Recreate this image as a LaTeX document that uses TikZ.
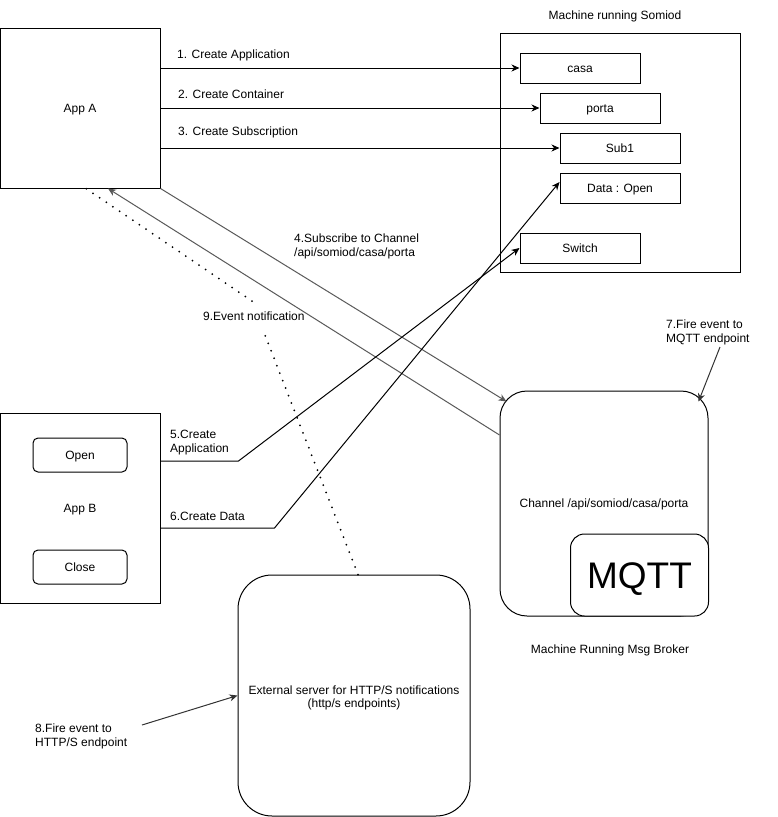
\documentclass[tikz,border=0pt]{standalone}
\usepackage{fontspec}
\setmainfont{Liberation Sans}
\usetikzlibrary{arrows.meta}
\begin{document}
\begin{tikzpicture}[x=1pt,y=-1pt,
  every node/.style={font=\fontsize{12}{13.5}\selectfont},
  box/.style={draw, line width=1pt, inner sep=0pt},
  onebox/.style={box, text height=10.1pt, text depth=1.5pt},
  lbl/.style={inner sep=0pt, align=left, anchor=west},
  arr/.style={line width=1pt, -{Stealth[length=8pt,width=7pt,inset=2.5pt]}},
  grayarr/.style={arr, draw=black!65},
  dotline/.style={line width=2pt, dash pattern=on 0pt off 8pt, line cap=round}]
\useasboundingbox (0,0) rectangle (778,817);

% App A
\node[onebox, minimum width=160pt, minimum height=160pt] (appA) at (80,108) {App A};

% Machine running Somiod
\node[box, minimum width=240pt, minimum height=239pt] (somiod) at (620,152.5) {};
\node[lbl, anchor=center] (somiodlbl) at (615,16.5) {Machine running Somiod};
\node[onebox, minimum width=120pt, minimum height=30pt] (casa) at (580,68) {casa};
\node[onebox, minimum width=120pt, minimum height=30pt] (porta) at (600,108) {porta};
\node[onebox, minimum width=120pt, minimum height=30pt] (sub1) at (620,148) {Sub1};
\node[onebox, minimum width=120pt, minimum height=30pt] (data) at (620,188) {Data : Open};
\node[onebox, minimum width=120pt, minimum height=30pt] (switch) at (580,248) {Switch};

% Broker
\node[onebox, rounded corners=27pt, minimum width=208pt, minimum height=225pt] (broker) at (604,503.5) {Channel /api/somiod/casa/porta};
\node[box, rounded corners=14pt, fill=white, minimum width=138pt, minimum height=82pt, text height=26.5pt, text depth=0pt, font=\fontsize{37}{40}\selectfont] (mqtt) at (639.5,575) {MQTT};
\node[lbl, anchor=center] (brokerlbl) at (610,650.5) {Machine Running Msg Broker};

% App B
\node[box, minimum width=160pt, minimum height=190pt] (appB) at (80,508) {};
\node[lbl, anchor=center] (appBlbl) at (80,509.5) {App B};
\node[onebox, rounded corners=5pt, minimum width=94pt, minimum height=34pt] (open) at (80,455) {Open};
\node[onebox, rounded corners=5pt, minimum width=94pt, minimum height=34pt] (close) at (80,567) {Close};

% External server
\node[box, rounded corners=34pt, minimum width=232pt, minimum height=241pt] (ext) at (354,695.5) {};
\node[lbl, anchor=center, align=center] (exttxt) at (354,698) {External server for HTTP/S notifications\\(http/s endpoints)};

% Labels
\node[lbl] (l1) at (177,55.8) {1. Create Application};
\node[lbl] (l2) at (178,93.8) {2. Create Container};
\node[lbl] (l3) at (178,132.8) {3. Create Subscription};
\node[lbl] (l4) at (294,246.5) {4.Subscribe to Channel\\/api/somiod/casa/porta};
\node[lbl] (l5) at (170,442.5) {5.Create\\Application};
\node[lbl] (l6) at (170,516) {6.Create Data};
\node[lbl] (l7) at (666,332.5) {7.Fire event to\\MQTT endpoint};
\node[lbl] (l8) at (35,736.5) {8.Fire event to\\HTTP/S endpoint};
\node[lbl] (l9) at (203,316.5) {9.Event notification};

% Connectors 1-3
\draw[arr] (casa.west -| appA.east) -- (casa.west);
\draw[arr] (porta.west -| appA.east) -- (porta.west);
\draw[arr] (sub1.west -| appA.east) -- (sub1.west);

% 4 subscribe and notification back
\draw[grayarr] (appA.south east) -- ([xshift=7pt,yshift=-11pt]broker.north west);
\draw[grayarr] ([yshift=68.5pt]broker.west) -- ([xshift=28pt]appA.south);

% 5 and 6
\draw[arr] ([yshift=47pt]appB.east) -- ++(78,0) -- (switch.west);
\draw[arr] ([yshift=-20pt]appB.east) -- ++(114,0) -- ([yshift=6pt]data.west);

% 7
\coordinate (c7) at (720,347);
\draw[arr, draw=black!80] (c7) -- ([xshift=-10pt,yshift=-11pt]broker.north east);

% 8
\coordinate (c8) at (142,725);
\draw[arr, draw=black!80] (c8) -- (ext.west);

% 9 dotted
\coordinate (d1) at (265,335);
\coordinate (d2) at (252,301);
\draw[dotline] ([xshift=4pt]ext.north) -- (d1);
\draw[dotline] (d2) -- ([xshift=3pt,yshift=2pt]appA.south);
\end{tikzpicture}
\end{document}
